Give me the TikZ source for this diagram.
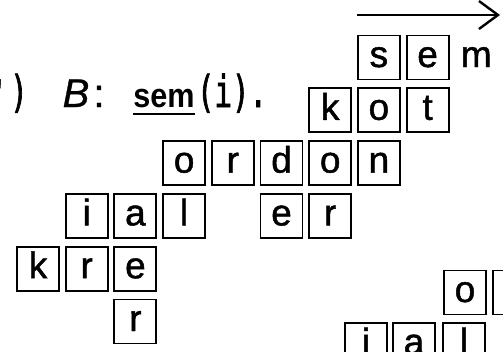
\documentclass[tikz,border=0pt]{standalone}
\usepackage{fontspec}
\setmainfont{Liberation Sans}
\newfontfamily\monofont[FakeStretch=0.66,FakeBold=1.5]{DejaVu Sans Mono}
\newfontfamily\semfont[FakeStretch=0.9]{Liberation Sans}
\newfontfamily\boxfont[FakeBold=1.3]{Liberation Sans}
\newfontfamily\txtfont[FakeBold=0.8]{Liberation Sans}
\usetikzlibrary{arrows.meta}
\tikzset{
  cell/.style={draw, line width=1.9pt, minimum width=42pt, minimum height=44pt,
    inner sep=0pt, text height=19pt, text depth=0pt,
    font=\fontsize{37}{37}\selectfont\boxfont},
  plain/.style={inner sep=0pt, text height=19pt, text depth=0pt,
    font=\fontsize{37}{37}\selectfont\boxfont},
  txt/.style={inner sep=0pt, anchor=base},
  arr/.style={line width=2.4pt, -{Straight Barb[length=19pt,width=28pt,line width=2.4pt]}}
}
\newcommand\gcell[4]{\node[cell] (#1) at ({38+48.7*#2},{57.5+52.8*#3}) {#4};}
\begin{document}
\begin{tikzpicture}[x=1pt,y=-1pt]
\useasboundingbox (0,0) rectangle (503,351);
% arrow
\coordinate (arrS) at (357,15);
\coordinate (arrE) at (500,15);
\draw[arr] (arrS) -- (arrE);
% text line
\node[txt, font=\fontsize{40}{40}\selectfont\txtfont] (prime) at (-1,107) {'};
\node[txt, font=\fontsize{44}{44}\selectfont\monofont] (par) at (19,107) {)};
\node[txt, font=\fontsize{40}{40}\selectfont\txtfont\itshape] (B) at (76,107) {B};
\node[txt, font=\fontsize{40}{40}\selectfont\txtfont] (colon) at (99,107) {:};
\node[txt, font=\fontsize{34}{34}\selectfont\semfont\bfseries] (sem) at (164,107) {sem};
\draw[line width=2.4pt] ([yshift=-7pt]sem.base west) -- ([yshift=-7pt]sem.base east);
\node[txt, font=\fontsize{44}{44}\selectfont\monofont] (iarg) at (232,107) {(i).};
% grid cells
\gcell{s0}{7}{0}{s}
\gcell{e0}{8}{0}{e}
\node[plain] (m0) at ({38+48.7*9},57.5) {m};
\gcell{k1}{6}{1}{k}
\gcell{o1}{7}{1}{o}
\gcell{t1}{8}{1}{t}
\gcell{o2}{3}{2}{o}
\gcell{r2}{4}{2}{r}
\gcell{d2}{5}{2}{d}
\gcell{oo2}{6}{2}{o}
\gcell{n2}{7}{2}{n}
\gcell{i3}{1}{3}{i}
\gcell{a3}{2}{3}{a}
\gcell{l3}{3}{3}{l}
\gcell{e3}{5}{3}{e}
\gcell{r3}{6}{3}{r}
\gcell{k4}{0}{4}{k}
\gcell{r4}{1}{4}{r}
\gcell{e4}{2}{4}{e}
\gcell{r5}{2}{5}{r}
% second group (bottom right)
\node[cell] (bo) at (465,292.5) {o};
\node[cell] (bx) at (514,292.5) {};
\node[cell] (bi) at (366,345) {i};
\node[cell] (ba) at (414,345) {a};
\node[cell] (bl) at (464,345) {l};
\end{tikzpicture}
\end{document}
